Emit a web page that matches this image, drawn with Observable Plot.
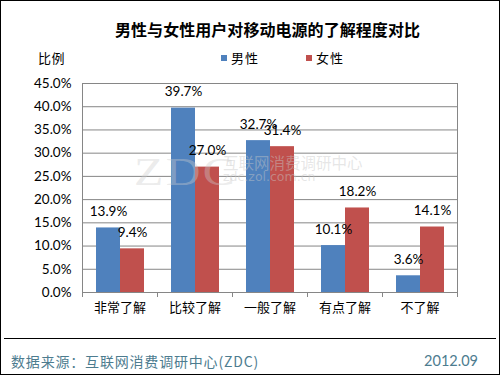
<!DOCTYPE html>
<html>
<head>
<meta charset="utf-8">
<script src="https://cdn.jsdelivr.net/npm/d3@7"></script>
<script src="https://cdn.jsdelivr.net/npm/@observablehq/plot@0.6"></script>
<style>
  html, body { margin: 0; padding: 0; background: #fff; }
  #wrap { position: relative; width: 500px; height: 375px; overflow: hidden; background: #fff; }
  #wrap svg { position: absolute; left: 0; top: 0; }
  .ov { position: absolute; white-space: nowrap; line-height: 1; }
</style>
</head>
<body>
<div id="wrap"></div>
<script>
const title = "男性与女性用户对移动电源的了解程度对比";
const yLabel = "比例";
const categories = ["非常了解", "比较了解", "一般了解", "有点了解", "不了解"];
const series = ["男性", "女性"];
const male = [13.9, 39.7, 32.7, 10.1, 3.6];
const female = [9.4, 27.0, 31.4, 18.2, 14.1];
const yTicks = [0, 5, 10, 15, 20, 25, 30, 35, 40, 45];
const colors = ["#4F81BD", "#C0504D"];
const source = "数据来源：互联网消费调研中心(ZDC)";
const dateText = "2012.09";

const data = categories.flatMap((c, i) => [
  {category: c, series: series[0], value: male[i]},
  {category: c, series: series[1], value: female[i]}
]);

const fmt = d => d.toFixed(1) + "%";
const grey = "#868686";

const plot = Plot.plot({
  width: 500,
  height: 375,
  marginLeft: 80,
  marginRight: 41,
  marginTop: 83,
  marginBottom: 83,
  style: {fontFamily: "Lato, 'Noto Sans CJK SC', sans-serif", fontSize: "13.5px", color: "#000", background: "transparent"},
  fx: {domain: categories, padding: 0, label: null},
  x: {domain: series, paddingInner: 0, paddingOuter: 0.516, axis: null},
  y: {domain: [0, 45], label: null},
  color: {domain: series, range: colors},
  marks: [
    Plot.gridY(yTicks, {stroke: grey, strokeOpacity: 1, strokeWidth: 1}),
    Plot.barY(data, {fx: "category", x: "series", y: "value", fill: "series"}),
    Plot.text(data, {fx: "category", x: "series", y: "value", text: d => fmt(d.value), dy: -16, fill: "#000", fontSize: 13.5}),
    Plot.axisY(yTicks, {tickSize: 0, tickPadding: 11, tickFormat: fmt, label: null, fontSize: 13.5, fill: "#000"}),
    Plot.axisFx({anchor: "bottom", tickSize: 0, tickPadding: 10, label: null, fontSize: 13, fontFamily: "'Noto Sans CJK SC', sans-serif", fill: "#000"}),
    Plot.ruleY([0], {stroke: grey, strokeWidth: 1})
  ]
});

// boundary ticks and side lines, positioned from Plot's own scales
const fxs = plot.scale("fx");
const ys = plot.scale("y");
const y0 = ys.apply(0), yTop = ys.apply(45);
const starts = categories.map(c => fxs.apply(c));
const bounds = [...starts, starts[starts.length - 1] + fxs.bandwidth];
const g = d3.select(plot).append("g").attr("stroke", grey).attr("stroke-width", 1);
bounds.forEach((bx, i) => {
  const edge = i === 0 || i === bounds.length - 1;
  const xx = Math.round(bx) + 0.5;
  g.append("line").attr("x1", xx).attr("x2", xx).attr("y1", edge ? yTop : y0).attr("y2", y0 + 5);
});

const wrap = document.getElementById("wrap");
wrap.appendChild(plot);

function ov(html, css) {
  const d = document.createElement("div");
  d.className = "ov";
  d.textContent = html;
  Object.assign(d.style, css);
  wrap.appendChild(d);
  return d;
}
// adjust letter-spacing so a text spans a target width
function fit(el, target) {
  el.style.letterSpacing = "0px";
  const w = el.getBoundingClientRect().width;
  const n = el.textContent.length;
  el.style.letterSpacing = ((target - w) / n) + "px";
}

// watermark
ov("ZDC", {left: "134px", top: "152px", fontFamily: "'Liberation Serif', serif", fontSize: "40px", color: "rgba(205,205,205,0.4)", letterSpacing: "2px", transform: "scaleX(1.2)", transformOrigin: "left top"});
ov("互联网消费调研中心", {left: "223px", top: "155px", fontFamily: "'Noto Sans CJK SC', sans-serif", fontSize: "15.5px", color: "rgba(200,200,200,0.45)"});
ov("zdc.zol.com.cn", {left: "223px", top: "171px", fontFamily: "'DejaVu Sans', sans-serif", fontSize: "12.5px", color: "rgba(200,200,200,0.45)"});

// title
const t = ov(title, {left: "115px", top: "21px", fontFamily: "'Noto Sans CJK SC', sans-serif", fontWeight: "bold", fontSize: "16px", color: "#000"});
fit(t, 305);
// y label
const yl = ov(yLabel, {left: "38px", top: "51px", fontFamily: "'Noto Sans CJK SC', sans-serif", fontSize: "13px", color: "#000"});
fit(yl, 27);
// legend
const legendX = [221, 306];
series.forEach((s, i) => {
  ov("", {left: legendX[i] + "px", top: "55px", width: "6px", height: "6px", background: colors[i]});
  const l = ov(s, {left: (legendX[i] + 10) + "px", top: "51px", fontFamily: "'Noto Sans CJK SC', sans-serif", fontSize: "13px", color: "#000"});
  fit(l, 28);
});

// footer
ov("", {left: "4px", top: "338px", width: "492px", height: "1px", background: "#000"});
const src = ov(source, {left: "11px", top: "354px", fontFamily: "'Noto Sans CJK SC', sans-serif", fontSize: "14px", color: "#4D7C8F"});
fit(src, 248);
ov(dateText, {right: "22px", top: "354px", fontFamily: "Lato, sans-serif", fontSize: "14.5px", color: "#4D7C8F"});

// outer border
ov("", {left: "0", top: "0", width: "498px", height: "373px", border: "1px solid #000"});
</script>
</body>
</html>
